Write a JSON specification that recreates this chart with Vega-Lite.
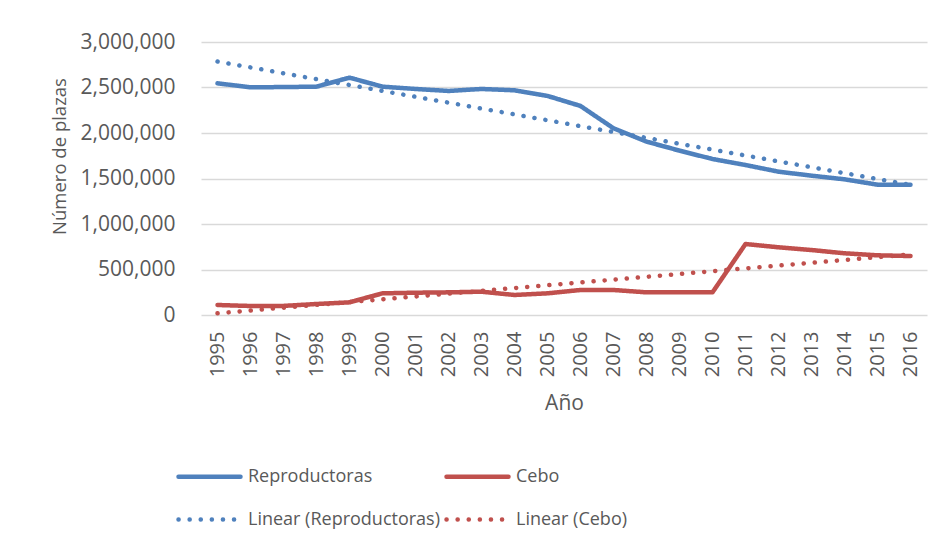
{
  "$schema": "https://vega.github.io/schema/vega-lite/v6.json",
  "width": 726,
  "height": 273,
  "autosize": {"type": "none"},
  "padding": {"left": 201, "top": 42, "right": 19, "bottom": 235},
  "background": "white",
  "config": {
    "view": {"stroke": null},
    "font": "Open Sans",
    "axis": {"labelColor": "#595959", "titleColor": "#595959", "titleFontWeight": "normal"},
    "legend": {"labelColor": "#595959"}
  },
  "data": {
    "values": [
      {"year": 1995, "value": 2546000, "series": "Reproductoras", "trend": "Linear (Reproductoras)"},
      {"year": 1996, "value": 2502000, "series": "Reproductoras", "trend": "Linear (Reproductoras)"},
      {"year": 1997, "value": 2505000, "series": "Reproductoras", "trend": "Linear (Reproductoras)"},
      {"year": 1998, "value": 2509000, "series": "Reproductoras", "trend": "Linear (Reproductoras)"},
      {"year": 1999, "value": 2608000, "series": "Reproductoras", "trend": "Linear (Reproductoras)"},
      {"year": 2000, "value": 2509000, "series": "Reproductoras", "trend": "Linear (Reproductoras)"},
      {"year": 2001, "value": 2484000, "series": "Reproductoras", "trend": "Linear (Reproductoras)"},
      {"year": 2002, "value": 2462000, "series": "Reproductoras", "trend": "Linear (Reproductoras)"},
      {"year": 2003, "value": 2484000, "series": "Reproductoras", "trend": "Linear (Reproductoras)"},
      {"year": 2004, "value": 2469000, "series": "Reproductoras", "trend": "Linear (Reproductoras)"},
      {"year": 2005, "value": 2407000, "series": "Reproductoras", "trend": "Linear (Reproductoras)"},
      {"year": 2006, "value": 2297000, "series": "Reproductoras", "trend": "Linear (Reproductoras)"},
      {"year": 2007, "value": 2052000, "series": "Reproductoras", "trend": "Linear (Reproductoras)"},
      {"year": 2008, "value": 1905000, "series": "Reproductoras", "trend": "Linear (Reproductoras)"},
      {"year": 2009, "value": 1806000, "series": "Reproductoras", "trend": "Linear (Reproductoras)"},
      {"year": 2010, "value": 1714000, "series": "Reproductoras", "trend": "Linear (Reproductoras)"},
      {"year": 2011, "value": 1648000, "series": "Reproductoras", "trend": "Linear (Reproductoras)"},
      {"year": 2012, "value": 1575000, "series": "Reproductoras", "trend": "Linear (Reproductoras)"},
      {"year": 2013, "value": 1531000, "series": "Reproductoras", "trend": "Linear (Reproductoras)"},
      {"year": 2014, "value": 1491000, "series": "Reproductoras", "trend": "Linear (Reproductoras)"},
      {"year": 2015, "value": 1432000, "series": "Reproductoras", "trend": "Linear (Reproductoras)"},
      {"year": 2016, "value": 1432000, "series": "Reproductoras", "trend": "Linear (Reproductoras)"},
      {"year": 1995, "value": 110000, "series": "Cebo", "trend": "Linear (Cebo)"},
      {"year": 1996, "value": 99000, "series": "Cebo", "trend": "Linear (Cebo)"},
      {"year": 1997, "value": 100000, "series": "Cebo", "trend": "Linear (Cebo)"},
      {"year": 1998, "value": 121000, "series": "Cebo", "trend": "Linear (Cebo)"},
      {"year": 1999, "value": 139000, "series": "Cebo", "trend": "Linear (Cebo)"},
      {"year": 2000, "value": 238000, "series": "Cebo", "trend": "Linear (Cebo)"},
      {"year": 2001, "value": 245000, "series": "Cebo", "trend": "Linear (Cebo)"},
      {"year": 2002, "value": 249000, "series": "Cebo", "trend": "Linear (Cebo)"},
      {"year": 2003, "value": 256000, "series": "Cebo", "trend": "Linear (Cebo)"},
      {"year": 2004, "value": 220000, "series": "Cebo", "trend": "Linear (Cebo)"},
      {"year": 2005, "value": 238000, "series": "Cebo", "trend": "Linear (Cebo)"},
      {"year": 2006, "value": 275000, "series": "Cebo", "trend": "Linear (Cebo)"},
      {"year": 2007, "value": 275000, "series": "Cebo", "trend": "Linear (Cebo)"},
      {"year": 2008, "value": 249000, "series": "Cebo", "trend": "Linear (Cebo)"},
      {"year": 2009, "value": 249000, "series": "Cebo", "trend": "Linear (Cebo)"},
      {"year": 2010, "value": 249000, "series": "Cebo", "trend": "Linear (Cebo)"},
      {"year": 2011, "value": 780000, "series": "Cebo", "trend": "Linear (Cebo)"},
      {"year": 2012, "value": 744000, "series": "Cebo", "trend": "Linear (Cebo)"},
      {"year": 2013, "value": 714000, "series": "Cebo", "trend": "Linear (Cebo)"},
      {"year": 2014, "value": 678000, "series": "Cebo", "trend": "Linear (Cebo)"},
      {"year": 2015, "value": 656000, "series": "Cebo", "trend": "Linear (Cebo)"},
      {"year": 2016, "value": 648000, "series": "Cebo", "trend": "Linear (Cebo)"}
    ]
  },
  "encoding": {
    "x": {
      "field": "year", "type": "quantitative",
      "scale": {"domain": [1994.5, 2016.5], "nice": false, "zero": false},
      "axis": {
        "title": "Año", "titleFontSize": 21, "titlePadding": 16,
        "values": [1995,1996,1997,1998,1999,2000,2001,2002,2003,2004,2005,2006,2007,2008,2009,2010,2011,2012,2013,2014,2015,2016],
        "format": "d", "labelAngle": -90, "labelFontSize": 20, "labelPadding": 16,
        "labelOverlap": false, "labelFlush": false, "labelBound": false, "grid": false,
        "domain": false, "ticks": false, "tickSize": 0
      }
    },
    "y": {
      "field": "value", "type": "quantitative",
      "scale": {"domain": [0, 3000000], "nice": false},
      "axis": {
        "title": "Número de plazas", "titleFontSize": 18.5, "titlePadding": 11, "titleY": 114,
        "values": [0, 500000, 1000000, 1500000, 2000000, 2500000, 3000000],
        "format": ",.0f", "labelFontSize": 21, "labelPadding": 26, "labelOverlap": false,
        "domain": false, "ticks": false, "tickSize": 0,
        "gridColor": "#D9D9D9", "gridWidth": 1.5
      }
    }
  },
  "layer": [
    {
      "mark": {"type": "line", "strokeWidth": 4.5, "strokeCap": "round", "strokeJoin": "round"},
      "encoding": {
        "color": {
          "field": "series", "type": "nominal",
          "scale": {
            "domain": ["Reproductoras", "Cebo", "Linear (Reproductoras)", "Linear (Cebo)"],
            "range": ["#4F81BD", "#C0504D", "#4F81BD", "#C0504D"]
          },
          "legend": {
            "title": null, "orient": "none", "legendX": -25, "legendY": 401,
            "columns": 2, "direction": "horizontal", "padding": 0,
            "symbolType": "stroke", "symbolSize": 3844, "symbolStrokeWidth": 4.5,
            "labelFontSize": 18, "labelOffset": 5, "labelLimit": 400,
            "columnPadding": -4, "rowPadding": -14,
            "encoding": {"symbols": {"strokeCap": {"value": "round"}}}
          }
        },
        "strokeDash": {
          "field": "series", "type": "nominal",
          "scale": {
            "domain": ["Reproductoras", "Cebo", "Linear (Reproductoras)", "Linear (Cebo)"],
            "range": [[1, 0], [1, 0], [0.1, 11], [0.1, 11]]
          },
          "legend": null
        }
      }
    },
    {
      "transform": [
        {"regression": "value", "on": "year", "groupby": ["trend"], "method": "linear", "extent": [1995, 2016]}
      ],
      "mark": {"type": "line", "strokeWidth": 4.5, "strokeCap": "round"},
      "encoding": {
        "color": {
          "field": "trend", "type": "nominal",
          "scale": {
            "domain": ["Reproductoras", "Cebo", "Linear (Reproductoras)", "Linear (Cebo)"],
            "range": ["#4F81BD", "#C0504D", "#4F81BD", "#C0504D"]
          }
        },
        "strokeDash": {
          "field": "trend", "type": "nominal",
          "scale": {
            "domain": ["Reproductoras", "Cebo", "Linear (Reproductoras)", "Linear (Cebo)"],
            "range": [[1, 0], [1, 0], [0.1, 11], [0.1, 11]]
          },
          "legend": null
        }
      }
    }
  ]
}
